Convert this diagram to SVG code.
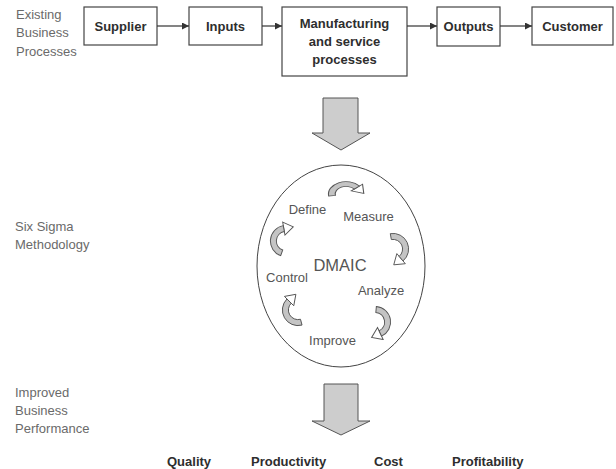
<svg xmlns="http://www.w3.org/2000/svg" width="616" height="469" viewBox="0 0 616 469">
  <style>
    .box { fill: #fff; stroke: #444; stroke-width: 1.2; }
    .bold { font-family: "Liberation Sans", Arial, sans-serif; font-weight: bold; font-size: 13px; fill: #2e2e2e; text-anchor: middle; }
    .side { font-family: "Liberation Sans", Arial, sans-serif; font-size: 13px; fill: #6a6a6a; }
    .step { font-family: "Liberation Sans", Arial, sans-serif; font-size: 13px; fill: #555; text-anchor: middle; }
    .link { stroke: #333; stroke-width: 1.2; fill: none; marker-end: url(#tri); }
    .bigarrow { fill: #cdcdcd; stroke: #555; stroke-width: 1; stroke-linejoin: miter; }
    .band { fill: #c4c4c4; stroke: #555; stroke-width: 0.8; }
    .head { fill: #fff; stroke: #555; stroke-width: 0.8; stroke-linejoin: miter; }
  </style>
  <defs>
    <marker id="tri" viewBox="0 0 10 10" refX="10" refY="5" markerWidth="7" markerHeight="7" markerUnits="userSpaceOnUse" orient="auto">
      <path d="M0,0 L10,5 L0,10 Z" fill="#333"/>
    </marker>
    <!-- curved cycle arrow: gray ribbon arc with hollow head, turning clockwise -->
    <g id="cycle">
      <path class="head" d="M12.26,-10.28 L13.18,-0.62 L3.83,-3.21 Z"/>
      <path class="band" d="M-12.8,2.26 A13,13 0 0 1 9.96,-8.36 L6.13,-5.14 A8,8 0 0 0 -7.88,1.39 Z"/>
    </g>
  </defs>

  <!-- row labels -->
  <g id="label-existing" class="side">
    <text x="16" y="19">Existing</text>
    <text x="16" y="37">Business</text>
    <text x="16" y="56">Processes</text>
  </g>
  <g id="label-sixsigma" class="side">
    <text x="15" y="231">Six Sigma</text>
    <text x="15" y="249">Methodology</text>
  </g>
  <g id="label-improved" class="side">
    <text x="15" y="397">Improved</text>
    <text x="15" y="415">Business</text>
    <text x="15" y="433">Performance</text>
  </g>

  <!-- process chain -->
  <g id="supplier">
    <rect class="box" x="84" y="7" width="73" height="38"/>
    <text class="bold" x="120.5" y="30.5">Supplier</text>
  </g>
  <g id="inputs">
    <rect class="box" x="189" y="7" width="73" height="38"/>
    <text class="bold" x="225.5" y="30.5">Inputs</text>
  </g>
  <g id="manufacturing">
    <rect class="box" x="282" y="7" width="125" height="69"/>
    <text class="bold" x="344.5" y="28">Manufacturing</text>
    <text class="bold" x="344.5" y="46">and service</text>
    <text class="bold" x="344.5" y="64">processes</text>
  </g>
  <g id="outputs">
    <rect class="box" x="437" y="7" width="63" height="39"/>
    <text class="bold" x="468.5" y="30.5">Outputs</text>
  </g>
  <g id="customer">
    <rect class="box" x="532" y="7" width="81" height="38"/>
    <text class="bold" x="572.5" y="30.5">Customer</text>
  </g>

  <g id="connectors">
    <line class="link" x1="157" y1="26" x2="189" y2="26"/>
    <line class="link" x1="262" y1="26" x2="282" y2="26"/>
    <line class="link" x1="407" y1="26" x2="437" y2="26"/>
    <line class="link" x1="500" y1="26" x2="532" y2="26"/>
  </g>

  <!-- block arrows down -->
  <g id="arrow-to-dmaic">
    <path class="bigarrow" d="M323,98 L358,98 L358,133 L370,133 L341,150 L312,133 L323,133 Z"/>
  </g>
  <g id="arrow-to-results">
    <path class="bigarrow" d="M324,384 L358,384 L358,421 L370,421 L341,435 L312,421 L324,421 Z"/>
  </g>

  <!-- DMAIC cycle -->
  <g id="dmaic">
    <ellipse cx="341" cy="266" rx="84" ry="101" fill="#fff" stroke="#444" stroke-width="1"/>
    <text x="340" y="271" font-family="'Liberation Sans', Arial, sans-serif" font-size="16.5" fill="#555" text-anchor="middle">DMAIC</text>
    <text class="step" x="307.5" y="214">Define</text>
    <text class="step" x="368.5" y="221">Measure</text>
    <text class="step" x="381" y="295">Analyze</text>
    <text class="step" x="332.5" y="345">Improve</text>
    <text class="step" x="287" y="282">Control</text>
    <use href="#cycle" transform="translate(346,194) scale(1.35,0.95)"/>
    <use href="#cycle" transform="translate(393,249) rotate(90) scale(1.2)"/>
    <use href="#cycle" transform="translate(375,322) rotate(105) scale(1.2)"/>
    <use href="#cycle" transform="translate(298,310) rotate(-95) scale(1.2)"/>
    <use href="#cycle" transform="translate(286,241) rotate(-60) scale(1.2)"/>
  </g>

  <!-- outcomes -->
  <g id="outcomes" class="bold" style="text-anchor:start">
    <text x="167" y="466">Quality</text>
    <text x="251" y="466">Productivity</text>
    <text x="374" y="466">Cost</text>
    <text x="452" y="466">Profitability</text>
  </g>
</svg>
